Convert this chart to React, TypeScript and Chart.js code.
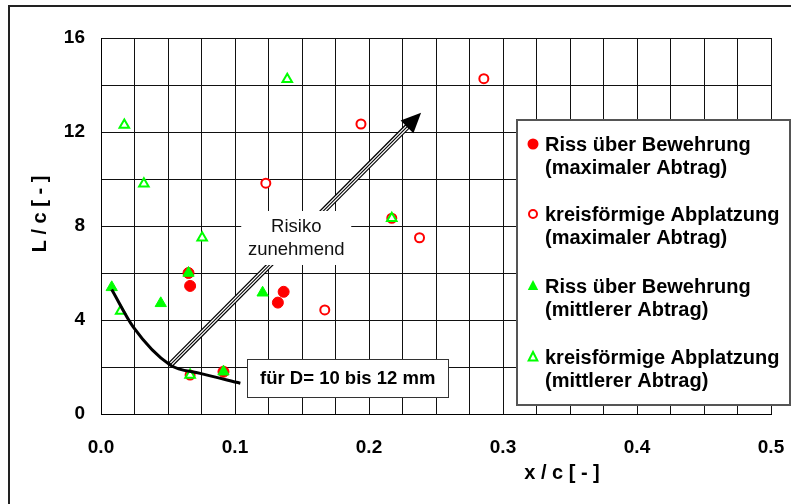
import React, { useEffect, useRef } from 'react';
import Chart from 'chart.js/auto';

const FONT = '"Liberation Sans", Arial, sans-serif';

// x / c values and L / c values per series
const rissMaxX = [0.0653, 0.0665, 0.0914, 0.1363, 0.132];
const rissMaxY = [6.0, 5.45, 1.8, 5.2, 4.74];

const kreisMaxX = [0.123, 0.194, 0.2857, 0.217, 0.2377, 0.167, 0.0665];
const kreisMaxY = [9.82, 12.34, 14.27, 8.33, 7.5, 4.43, 1.66];

const rissMitX = [0.008, 0.0446, 0.0653, 0.0914, 0.1206];
const rissMitY = [5.39, 4.71, 6.0, 1.8, 5.16];

const kreisMitX = [0.139, 0.0174, 0.032, 0.0755, 0.217, 0.0147, 0.0665];
const kreisMitY = [14.25, 12.3, 9.8, 7.5, 8.33, 4.38, 1.66];

// limit curve "für D= 10 bis 12 mm"
const curveX = [0.008, 0.024, 0.0516, 0.074, 0.104];
const curveY = [5.3, 3.71, 2.09, 1.73, 1.31];

const xLabelValues = [0, 0.1, 0.2, 0.3, 0.4, 0.5];
const yLabelValues = [0, 4, 8, 12, 16];

const legendLabels = [
  ['Riss über Bewehrung', '(maximaler Abtrag)'],
  ['kreisförmige Abplatzung', '(maximaler Abtrag)'],
  ['Riss über Bewehrung', '(mittlerer Abtrag)'],
  ['kreisförmige Abplatzung', '(mittlerer Abtrag)'],
];

const xTitle = 'x / c [ - ]';
const yTitle = 'L / c [ - ]';
const riskText = ['Risiko', 'zunehmend'];
const curveText = 'für D= 10 bis 12 mm';

// annotation anchors (data units)
const arrowFrom = [0.0516, 2.09];
const arrowTo = [0.2389, 12.82];
const riskCenter = [0.1457, 7.49];
const curveBoxLeft = [0.1091, 1.53];

const RED = '#ff0000';
const GREEN = '#00ff00';

const pts = (xs: number[], ys: number[]) => xs.map((x, i) => ({ x, y: ys[i] }));

const overlay = {
  id: 'overlay',
  afterDatasetsDraw(chart: any) {
    const ctx = chart.ctx as CanvasRenderingContext2D;
    const xs = chart.scales.x;
    const ys = chart.scales.y;
    ctx.save();
    // arrow
    const x0 = xs.getPixelForValue(arrowFrom[0]);
    const y0 = ys.getPixelForValue(arrowFrom[1]);
    const x1 = xs.getPixelForValue(arrowTo[0]);
    const y1 = ys.getPixelForValue(arrowTo[1]);
    const dx = x1 - x0, dy = y1 - y0;
    const len = Math.hypot(dx, dy);
    const ux = dx / len, uy = dy / len;
    const headLen = 20, headW = 9;
    const bx = x1 - ux * headLen, by = y1 - uy * headLen;
    ctx.lineCap = 'butt';
    ctx.beginPath();
    ctx.moveTo(x0, y0);
    ctx.lineTo(bx + ux * 2, by + uy * 2);
    ctx.strokeStyle = '#000';
    ctx.lineWidth = 6;
    ctx.stroke();
    ctx.beginPath();
    ctx.moveTo(x0 + ux * 1.5, y0 + uy * 1.5);
    ctx.lineTo(bx, by);
    ctx.strokeStyle = '#fff';
    ctx.lineWidth = 3.6;
    ctx.stroke();
    ctx.beginPath();
    ctx.moveTo(x0, y0);
    ctx.lineTo(bx, by);
    ctx.strokeStyle = '#000';
    ctx.lineWidth = 1.1;
    ctx.stroke();
    ctx.beginPath();
    ctx.moveTo(x1, y1);
    ctx.lineTo(bx - uy * headW, by + ux * headW);
    ctx.lineTo(bx + uy * headW, by - ux * headW);
    ctx.closePath();
    ctx.fillStyle = '#000';
    ctx.fill();

    // Risiko box
    const rcx = xs.getPixelForValue(riskCenter[0]);
    const rcy = ys.getPixelForValue(riskCenter[1]);
    ctx.fillStyle = '#fff';
    ctx.fillRect(rcx - 55, rcy - 27, 110, 54);
    ctx.fillStyle = '#111';
    ctx.font = `18.5px ${FONT}`;
    ctx.textAlign = 'center';
    ctx.textBaseline = 'middle';
    ctx.fillText(riskText[0], rcx, rcy - 11);
    ctx.fillText(riskText[1], rcx, rcy + 12);

    // curve label box
    const cbx = xs.getPixelForValue(curveBoxLeft[0]);
    const cby = ys.getPixelForValue(curveBoxLeft[1]);
    ctx.fillStyle = '#fff';
    ctx.fillRect(cbx, cby - 19, 201, 38);
    ctx.strokeStyle = '#333';
    ctx.lineWidth = 1;
    ctx.strokeRect(Math.round(cbx) + 0.5, Math.round(cby - 19) + 0.5, 201, 38);
    ctx.fillStyle = '#000';
    ctx.font = `bold 18.5px ${FONT}`;
    ctx.fillText(curveText, cbx + 100.5, cby + 1);
    ctx.restore();
  },
  afterDraw(chart: any) {
    const ctx = chart.ctx as CanvasRenderingContext2D;
    const area = chart.chartArea;
    ctx.save();
    // axis titles
    ctx.fillStyle = '#000';
    ctx.font = `bold 20px ${FONT}`;
    ctx.textAlign = 'center';
    ctx.textBaseline = 'middle';
    ctx.fillText(xTitle, area.left + 461, area.bottom + 59);
    ctx.save();
    ctx.translate(40, area.top + 176);
    ctx.rotate(-Math.PI / 2);
    ctx.fillText(yTitle, 0, 0);
    ctx.restore();

    // legend
    const lx = 517, ly = 120, lw = 273, lh = 285;
    ctx.fillStyle = '#fff';
    ctx.fillRect(lx, ly, lw, lh);
    ctx.strokeStyle = '#555';
    ctx.lineWidth = 2;
    ctx.strokeRect(lx, ly, lw, lh);
    const rows = [145, 215, 287, 358];
    ctx.font = `bold 20px ${FONT}`;
    ctx.textAlign = 'left';
    ctx.textBaseline = 'middle';
    rows.forEach((ry, i) => {
      const mx = 533, my = ry - 1;
      ctx.beginPath();
      if (i === 0) {
        ctx.arc(mx, my, 5.5, 0, Math.PI * 2);
        ctx.fillStyle = RED;
        ctx.fill();
      } else if (i === 1) {
        ctx.arc(mx, my, 4, 0, Math.PI * 2);
        ctx.fillStyle = '#fff';
        ctx.fill();
        ctx.strokeStyle = RED;
        ctx.lineWidth = 2;
        ctx.stroke();
      } else {
        const r = i === 2 ? 6 : 5;
        ctx.moveTo(mx, my - r);
        ctx.lineTo(mx + r * 0.866, my + r * 0.5 + 1);
        ctx.lineTo(mx - r * 0.866, my + r * 0.5 + 1);
        ctx.closePath();
        if (i === 2) {
          ctx.fillStyle = GREEN;
          ctx.fill();
        } else {
          ctx.fillStyle = '#fff';
          ctx.fill();
          ctx.strokeStyle = GREEN;
          ctx.lineWidth = 2;
          ctx.stroke();
        }
      }
      ctx.fillStyle = '#000';
      ctx.fillText(legendLabels[i][0], 545, ry);
      ctx.fillText(legendLabels[i][1], 545, ry + 23);
    });

    // outer frame
    ctx.strokeStyle = '#222';
    ctx.lineWidth = 2;
    ctx.beginPath();
    ctx.moveTo(9, 520);
    ctx.lineTo(9, 6);
    ctx.lineTo(800, 6);
    ctx.stroke();
    ctx.restore();
  },
};

export default function App() {
  const ref = useRef<HTMLCanvasElement | null>(null);
  useEffect(() => {
    if (!ref.current) return;
    const chart = new Chart(ref.current, {
      type: 'scatter',
      data: {
        datasets: [
          {
            label: 'curve',
            type: 'line',
            data: pts(curveX, curveY),
            showLine: true,
            borderColor: '#000',
            borderWidth: 3,
            pointRadius: 0,
            cubicInterpolationMode: 'monotone',
            fill: false,
            order: 0,
          } as any,
          {
            label: legendLabels[2].join(' '),
            data: pts(rissMitX, rissMitY),
            pointStyle: 'triangle',
            pointRadius: 6.5,
            backgroundColor: GREEN,
            borderColor: GREEN,
            borderWidth: 1,
            order: 1,
          },
          {
            label: legendLabels[3].join(' '),
            data: pts(kreisMitX, kreisMitY),
            pointStyle: 'triangle',
            pointRadius: 5.5,
            backgroundColor: '#fff',
            borderColor: GREEN,
            borderWidth: 2,
            order: 2,
          },
          {
            label: legendLabels[0].join(' '),
            data: pts(rissMaxX, rissMaxY),
            pointStyle: 'circle',
            pointRadius: 5.5,
            backgroundColor: RED,
            borderColor: RED,
            borderWidth: 1,
            order: 3,
          },
          {
            label: legendLabels[1].join(' '),
            data: pts(kreisMaxX, kreisMaxY),
            pointStyle: 'circle',
            pointRadius: 4.5,
            backgroundColor: '#fff',
            borderColor: RED,
            borderWidth: 2,
            order: 4,
          },
        ],
      },
      options: {
        animation: false,
        responsive: false,
        events: [],
        layout: { padding: { top: 38, right: 20, left: 0, bottom: 0 } },
        plugins: { legend: { display: false }, tooltip: { enabled: false } },
        scales: {
          x: {
            type: 'linear',
            min: 0,
            max: 0.5,
            afterFit: (s: any) => { s.height = 90; s.paddingLeft = 0; s.paddingRight = 0; },
            grid: { color: '#111', lineWidth: 1, drawTicks: false },
            border: { color: '#000', width: 1 },
            ticks: {
              stepSize: 0.025,
              autoSkip: false,
              maxRotation: 0,
              padding: 22,
              color: '#000',
              font: { family: FONT, size: 19, weight: 'bold' },
              callback: (v: any) => {
                const hit = xLabelValues.find((t) => Math.abs(t - Number(v)) < 1e-6);
                return hit === undefined ? '' : hit.toFixed(1);
              },
            },
          },
          y: {
            type: 'linear',
            min: 0,
            max: 16,
            afterFit: (s: any) => { s.width = 101; s.paddingTop = 0; s.paddingBottom = 0; },
            grid: { color: '#111', lineWidth: 1, drawTicks: false },
            border: { color: '#000', width: 1 },
            ticks: {
              stepSize: 2,
              autoSkip: false,
              padding: 16,
              color: '#000',
              font: { family: FONT, size: 19, weight: 'bold' },
              callback: (v: any) => {
                const hit = yLabelValues.find((t) => Math.abs(t - Number(v)) < 1e-6);
                return hit === undefined ? '' : String(hit);
              },
            },
          },
        },
      },
      plugins: [overlay],
    });
    return () => chart.destroy();
  }, []);
  return (
    <canvas
      ref={ref}
      width={791}
      height={504}
      style={{ position: 'fixed', left: 0, top: 0, width: 791, height: 504, display: 'block', background: '#fff' }}
    />
  );
}
